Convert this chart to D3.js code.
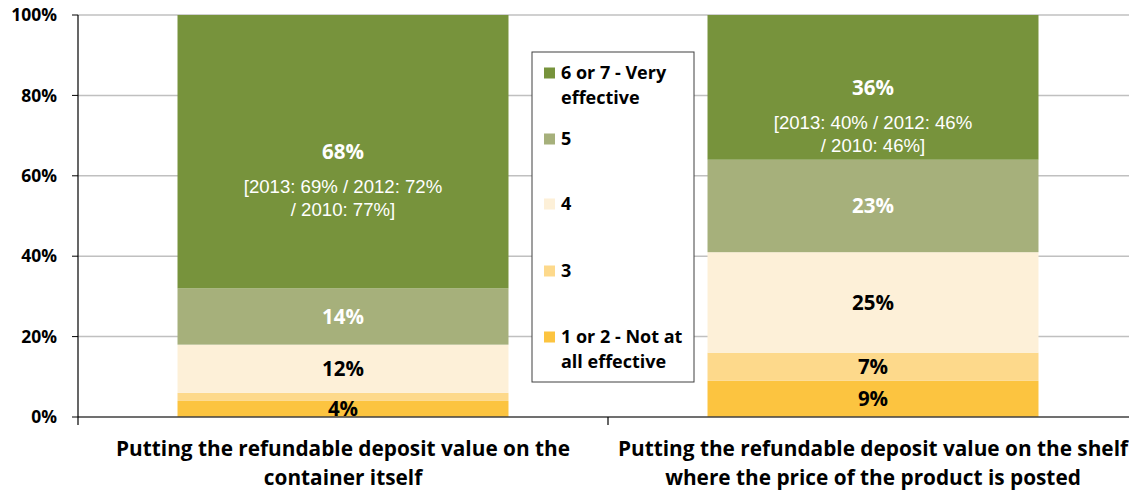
<!DOCTYPE html>
<html>
<head>
<meta charset="utf-8">
<script src="https://cdn.jsdelivr.net/npm/d3@7"></script>
<style>
  body { margin: 0; background: #fff; }
  .tick-lbl { font-family: "Open Sans", Lato, sans-serif; font-weight: bold; font-size: 17.5px; fill: #000; }
  .cat-lbl { font-family: "Open Sans", Lato, sans-serif; font-weight: bold; font-size: 20.8px; fill: #000; }
  .seg-lbl { font-family: "Open Sans", Lato, sans-serif; font-weight: bold; font-size: 20.5px; }
  .note { font-family: "Liberation Sans", Arial, sans-serif; font-size: 18.6px; fill: #fff; }
  .leg-lbl { font-family: "Open Sans", Lato, sans-serif; font-weight: bold; font-size: 18px; fill: #000; }
</style>
</head>
<body>
<div class="chart"></div>
<script>
var svgWidth = 1129;
var svgHeight = 491;

// categories (two lines each) and series, bottom to top
var categories = ["container", "shelf"];
var categoryLines = [
    ["Putting the refundable deposit value on the", "container itself"],
    ["Putting the refundable deposit value on the shelf", "where the price of the product is posted"]
];
var seriesNames = ["1 or 2 - Not at all effective", "3", "4", "5", "6 or 7 - Very effective"];
var legendLines = [
    ["1 or 2 - Not at", "all effective"],
    ["3"],
    ["4"],
    ["5"],
    ["6 or 7 - Very", "effective"]
];
var seriesColors = ["#FCC440", "#FDD98B", "#FDF0D8", "#A6B07B", "#77933C"];
var labelColors = ["#000", "#000", "#000", "#fff", "#fff"];

var containerValues = [4, 2, 12, 14, 68];
var shelfValues = [9, 7, 25, 23, 36];
var showLabel = [[true, false, true, true, true], [true, true, true, true, true]];

var notes = [
    ["[2013: 69% / 2012: 72%", "/ 2010: 77%]"],
    ["[2013: 40% / 2012: 46%", "/ 2010: 46%]"]
];
var yTicks = [0, 20, 40, 60, 80, 100];

var margin = { top: 15, right: -9, bottom: 74, left: 78 };
var width = svgWidth - margin.left - margin.right;
var height = svgHeight - margin.top - margin.bottom;

var svg = d3.select(".chart")
    .append("svg")
    .attr("width", svgWidth)
    .attr("height", svgHeight)
    .style("display", "block");

var chartGroup = svg.append("g")
    .attr("transform", `translate(${margin.left}, ${margin.top})`);

var xScale = d3.scaleBand()
    .domain(categories)
    .range([0, width])
    .paddingInner(0.3755)
    .paddingOuter(0.3755 / 2);

var yScale = d3.scaleLinear()
    .domain([0, 100])
    .range([height, 0]);

// gridlines
chartGroup.selectAll(".grid")
    .data(yTicks.filter(d => d > 0))
    .enter()
    .append("line")
    .attr("x1", 0)
    .attr("x2", width)
    .attr("y1", d => yScale(d))
    .attr("y2", d => yScale(d))
    .attr("stroke", "#c0c0c0")
    .attr("stroke-width", 1.5);

// stack the data
var table = categories.map(function (c, i) {
    var row = { cat: c };
    var vals = i === 0 ? containerValues : shelfValues;
    seriesNames.forEach(function (s, j) { row[s] = vals[j]; });
    return row;
});
var stacked = d3.stack().keys(seriesNames)(table);

var layers = chartGroup.selectAll(".layer")
    .data(stacked)
    .enter()
    .append("g")
    .attr("fill", (d, i) => seriesColors[i]);

layers.selectAll("rect")
    .data(d => d)
    .enter()
    .append("rect")
    .attr("x", d => xScale(d.data.cat))
    .attr("width", xScale.bandwidth())
    .attr("y", d => yScale(d[1]))
    .attr("height", d => yScale(d[0]) - yScale(d[1]));

// segment labels
stacked.forEach(function (layer, i) {
    layer.forEach(function (d, k) {
        if (!showLabel[k][i]) return;
        chartGroup.append("text")
            .attr("class", "seg-lbl")
            .attr("x", xScale(d.data.cat) + xScale.bandwidth() / 2)
            .attr("y", (yScale(d[0]) + yScale(d[1])) / 2)
            .attr("dy", "0.36em")
            .attr("text-anchor", "middle")
            .attr("fill", labelColors[i])
            .text((d[1] - d[0]) + "%");
    });
});

// trend notes under the top label
var topLayer = stacked[stacked.length - 1];
topLayer.forEach(function (d, k) {
    var cy = (yScale(d[0]) + yScale(d[1])) / 2;
    notes[k].forEach(function (line, n) {
        chartGroup.append("text")
            .attr("class", "note")
            .attr("x", xScale(d.data.cat) + xScale.bandwidth() / 2)
            .attr("y", cy + 35 + n * 23)
            .attr("dy", "0.35em")
            .attr("text-anchor", "middle")
            .text(line);
    });
});

// axes
chartGroup.append("line")
    .attr("x1", 0).attr("x2", width)
    .attr("y1", height).attr("y2", height)
    .attr("stroke", "#404040")
    .attr("stroke-width", 1.3);

chartGroup.append("line")
    .attr("x1", 0).attr("x2", 0)
    .attr("y1", 0).attr("y2", height + 8)
    .attr("stroke", "#000")
    .attr("stroke-width", 1.2);

chartGroup.append("line")
    .attr("x1", xScale.step()).attr("x2", xScale.step())
    .attr("y1", height).attr("y2", height + 8)
    .attr("stroke", "#000")
    .attr("stroke-width", 1.2);

chartGroup.selectAll(".ytick")
    .data(yTicks)
    .enter()
    .append("line")
    .attr("x1", -6).attr("x2", 0)
    .attr("y1", d => yScale(d))
    .attr("y2", d => yScale(d))
    .attr("stroke", "#000");

chartGroup.selectAll(".ylbl")
    .data(yTicks)
    .enter()
    .append("text")
    .attr("class", "tick-lbl")
    .attr("x", -21)
    .attr("y", d => yScale(d))
    .attr("dy", "0.35em")
    .attr("text-anchor", "end")
    .text(d => d + "%");

// category labels
categories.forEach(function (c, i) {
    categoryLines[i].forEach(function (line, n) {
        chartGroup.append("text")
            .attr("class", "cat-lbl")
            .attr("x", xScale(c) + xScale.bandwidth() / 2)
            .attr("y", height + 32 + n * 29)
            .attr("dy", "0.36em")
            .attr("text-anchor", "middle")
            .text(line);
    });
});

// legend
var legend = svg.append("g").attr("transform", "translate(532, 52)");
legend.append("rect")
    .attr("x", 0).attr("y", 0)
    .attr("width", 162).attr("height", 330)
    .attr("fill", "#fff")
    .attr("stroke", "#404040");

var legendY = [285, 219, 152, 87, 21];
seriesNames.forEach(function (s, i) {
    var g = legend.append("g").attr("transform", `translate(12, ${legendY[i]})`);
    g.append("rect")
        .attr("x", 0).attr("y", -5.5)
        .attr("width", 11).attr("height", 11)
        .attr("fill", seriesColors[i]);
    legendLines[i].forEach(function (line, n) {
        g.append("text")
            .attr("class", "leg-lbl")
            .attr("x", 17)
            .attr("y", n * 25)
            .attr("dy", "0.36em")
            .text(line);
    });
});
</script>
</body>
</html>
